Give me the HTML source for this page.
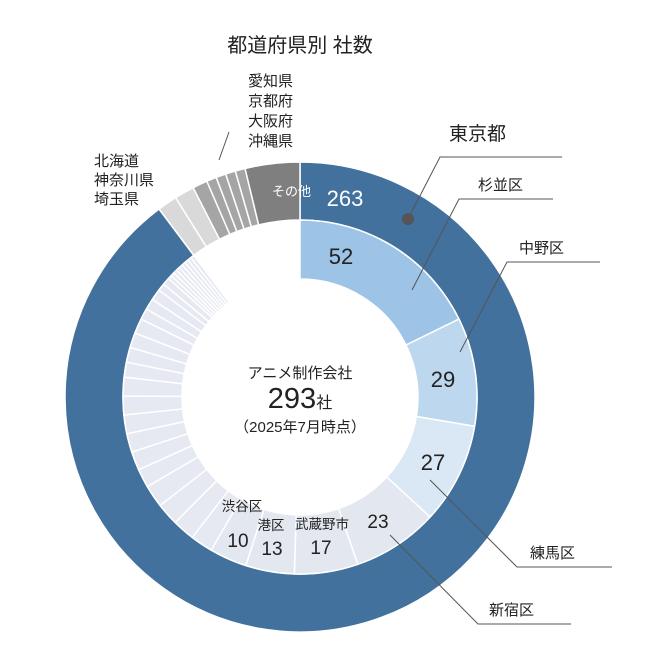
<!DOCTYPE html>
<html><head><meta charset="utf-8"><style>
html,body{margin:0;padding:0;background:#fff}
svg{display:block}
text{font-family:"Liberation Sans","Noto Sans CJK JP",sans-serif;fill:#222}
</style></head><body>
<svg id="s" width="649" height="663" viewBox="0 0 649 663" xmlns="http://www.w3.org/2000/svg">
<g id="rings"></g>
<text x="300" y="52" font-size="20" text-anchor="middle">都道府県別 社数</text>
<g font-size="15">
<text x="248" y="86">愛知県</text><text x="248" y="106">京都府</text><text x="248" y="126">大阪府</text><text x="248" y="146">沖縄県</text>
<text x="94" y="166">北海道</text><text x="94" y="185">神奈川県</text><text x="94" y="204">埼玉県</text>
</g>
<text x="449" y="140" font-size="19" >東京都</text>
<text x="478" y="190" font-size="15">杉並区</text>
<text x="519" y="253" font-size="15">中野区</text>
<text x="530" y="558" font-size="15">練馬区</text>
<text x="489" y="615" font-size="15">新宿区</text>
<g stroke="#555" stroke-width="1" fill="none">
<polyline points="408,219 440,157 562,157"/>
<polyline points="412,290 459,199 553,199"/>
<polyline points="460,352 507,262 600,262"/>
<polyline points="430,480 517,567 612,567"/>
<polyline points="390,535 478,624 571,624"/>
<line x1="219" y1="160" x2="229" y2="132"/>
</g>
<circle cx="408" cy="219" r="6" fill="#555"/>
<text x="272" y="196" font-size="13" fill="#fff" style="fill:#fff">その他</text>
<text x="345" y="206" font-size="22" text-anchor="middle" style="fill:#fff">263</text>
<text x="341" y="264" font-size="22" text-anchor="middle">52</text>
<text x="443" y="387" font-size="22" text-anchor="middle">29</text>
<text x="433" y="470" font-size="22" text-anchor="middle">27</text>
<text x="378" y="528" font-size="19" text-anchor="middle">23</text>
<text x="321" y="554" font-size="19" text-anchor="middle">17</text>
<text x="272" y="555" font-size="19" text-anchor="middle">13</text>
<text x="238" y="547" font-size="19" text-anchor="middle">10</text>
<text x="322" y="529" font-size="13.5" text-anchor="middle">武蔵野市</text>
<text x="271" y="530" font-size="13.5" text-anchor="middle">港区</text>
<text x="242" y="511" font-size="13.5" text-anchor="middle">渋谷区</text>
<text x="300" y="378" font-size="15" text-anchor="middle">アニメ制作会社</text>
<text x="300" y="408" text-anchor="middle"><tspan font-size="29">293</tspan><tspan font-size="16">社</tspan></text>
<text x="300" y="432" font-size="15" text-anchor="middle">（2025年7月時点）</text>
</svg>
<script>
(function(){
var cx=300,cy=397,T=293;
var g=document.getElementById('rings');
function pt(r,a){var t=a*Math.PI/180;return [cx+r*Math.sin(t),cy-r*Math.cos(t)];}
function arc(r0,r1,a0,a1,fill){
var p1=pt(r1,a0),p2=pt(r1,a1),p3=pt(r0,a1),p4=pt(r0,a0);var lg=(a1-a0)>180?1:0;
var d='M'+p1+' A'+r1+','+r1+' 0 '+lg+' 1 '+p2+' L'+p3+' A'+r0+','+r0+' 0 '+lg+' 0 '+p4+'Z';
var e=document.createElementNS('http://www.w3.org/2000/svg','path');
e.setAttribute('d',d);e.setAttribute('fill',fill);e.setAttribute('stroke','#fff');e.setAttribute('stroke-width','1.5');g.appendChild(e);}
var outer=[[263,'#41719c'],[4,'#d9d9d9'],[4,'#d9d9d9'],[3,'#a5a5a5'],[2,'#a5a5a5'],[2,'#a5a5a5'],[2,'#a5a5a5'],[2,'#a5a5a5'],[11,'#7f7f7f']];
var a=0;outer.forEach(function(s){var b=a+s[0]/T*360;arc(177,235,a,b,s[1]);a=b;});
var inner=[[52,'#9dc3e6'],[29,'#bdd7ee'],[27,'#dae8f5'],[23,'#e3e7f0'],[17,'#e3e7f0'],[13,'#e3e7f0'],[10,'#e3e7f0']];
var small=[6,6,6,6,5,5,5,5,5,5,4,4,4,4,3,3,3,2,2,1,1,1,1,1,1,1,1,1];
small.forEach(function(v){inner.push([v,'#e6e9f2']);});
a=0;inner.forEach(function(s){var b=a+s[0]/T*360;arc(118,177,a,b,s[1]);a=b;});
})();
</script>
</body></html>
